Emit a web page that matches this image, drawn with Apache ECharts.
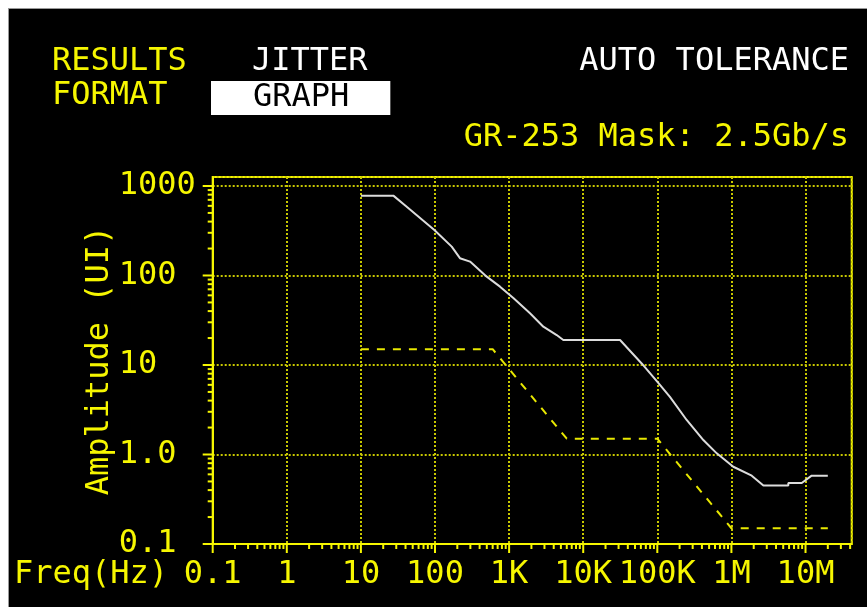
<!DOCTYPE html>
<html>
<head>
<meta charset="UTF-8">
<title>Jitter Auto Tolerance</title>
<script src="https://cdn.jsdelivr.net/npm/echarts@6/dist/echarts.min.js"></script>
<style>
  * { margin: 0; padding: 0; }
  body { background: #fff; width: 867px; height: 607px; overflow: hidden; }
  #main {
    position: absolute; left: 8px; top: 8px;
    width: 858px; height: 598px;
    background: #000;
    border-left: 1px solid #999; border-top: 1px solid #999;
  }
</style>
</head>
<body>
<div id="main"></div>
<script>
// measured jitter tolerance (white trace)
var measFreq = [10, 27.4, 40, 98, 168, 217, 297, 499, 754, 1140, 1914, 2897, 4388, 5385,
  31400, 61500, 103000, 148000, 249000, 418000, 634000, 1060000, 1880000, 2700000,
  5860000, 5860000, 8890000, 12100000, 20000000];
var measAmp = [780, 780, 600, 322, 210, 156, 143, 97, 75, 56, 37.8, 26.8, 21.6, 19,
  19, 10.4, 6.3, 4.4, 2.43, 1.45, 1.03, 0.73, 0.58, 0.45,
  0.45, 0.48, 0.48, 0.58, 0.58];

// GR-253 mask (dashed yellow)
var maskFreq = [10, 600, 6000, 100000, 1000000, 20000000];
var maskAmp = [15, 15, 1.5, 1.5, 0.15, 0.15];

// axis labels
var xTickLabels = ['0.1', '1', '10', '100', '1K', '10K', '100K', '1M', '10M'];
var yTickLabels = ['0.1', '1.0', '10', '100', '1000'];
var xDecades = [0.1, 1, 10, 100, 1e3, 1e4, 1e5, 1e6, 1e7];
var yDecades = [0.1, 1, 10, 100, 1000];
var minorSteps = [2, 3, 4, 5, 6, 7, 8, 9];

var X_MIN = 0.1, X_MAX = 4.2e7;
var Y_MIN = 0.1, Y_MAX = 1260;

var YEL = '#f6f600';
var FONT = 'DejaVu Sans Mono';

function pairs(xs, ys) {
  var out = [];
  for (var i = 0; i < xs.length; i++) out.push([xs[i], ys[i]]);
  return out;
}

function decadeIndex(v) {
  var e = Math.log10(v);
  var r = Math.round(e);
  if (Math.abs(e - r) > 1e-6) return null;
  return r + 1;
}

// tick marks at 1..9 x 10^n
var xTicks = [], yTicks = [];
xDecades.forEach(function (d) {
  xTicks.push([d, Y_MIN, 1]);
  minorSteps.forEach(function (k) {
    if (k * d < X_MAX) xTicks.push([k * d, Y_MIN, 0]);
  });
});
yDecades.forEach(function (d) {
  yTicks.push([X_MIN, d, 1]);
  minorSteps.forEach(function (k) {
    if (k * d < Y_MAX) yTicks.push([X_MIN, k * d, 0]);
  });
});

var chart = echarts.init(document.getElementById('main'));

var txt = function (size, color) {
  return { fontFamily: FONT, fontSize: size, fontWeight: 'normal', color: color, lineHeight: 32 };
};

chart.setOption({
  backgroundColor: '#000',
  animation: false,
  title: [
    { text: 'RESULTS', left: 43, top: 37, padding: 0, textStyle: txt(32, YEL) },
    { text: 'FORMAT', left: 43, top: 71, padding: 0, textStyle: txt(32, YEL) },
    { text: 'JITTER', left: 243, top: 37, padding: 0, textStyle: txt(32, '#fff') },
    { text: 'GRAPH', left: 202, top: 72, padding: [1, 41, 1, 42], backgroundColor: '#fff',
      textStyle: txt(32, '#000') },
    { text: 'AUTO TOLERANCE', right: 18, top: 37, padding: 0, textStyle: txt(32, '#fff') },
    { text: 'GR-253 Mask: 2.5Gb/s', right: 18, top: 113, padding: 0, textStyle: txt(32, YEL) },
    { text: 'Freq(Hz)', left: 5, top: 550, padding: 0, textStyle: txt(32, YEL) }
  ],
  grid: {
    left: 203.7, top: 168, right: 15.3, bottom: 63,
    containLabel: false, outerBoundsMode: 'none',
    show: true, borderColor: YEL, borderWidth: 2, backgroundColor: 'transparent'
  },
  xAxis: {
    type: 'log', logBase: 10, min: X_MIN, max: X_MAX, splitNumber: 9,
    axisLine: { show: true, lineStyle: { color: YEL, width: 2 } },
    axisTick: { show: false },
    axisLabel: {
      color: YEL, fontFamily: FONT, fontSize: 32, margin: 15, lineHeight: 32,
      showMaxLabel: false,
      formatter: function (v) {
        var i = decadeIndex(v);
        return i === null ? '' : (xTickLabels[i] || '');
      }
    },
    splitLine: { show: true, lineStyle: { color: '#c8c800', width: 2, type: [2, 2] } }
  },
  yAxis: {
    type: 'log', logBase: 10, min: Y_MIN, max: Y_MAX, splitNumber: 5,
    name: 'Amplitude (UI)', nameLocation: 'middle', nameGap: 97, nameMoveOverlap: false,
    nameTextStyle: { fontFamily: FONT, fontSize: 32, color: YEL },
    axisLine: { show: true, lineStyle: { color: YEL, width: 2 } },
    axisTick: { show: false },
    axisLabel: {
      color: YEL, fontFamily: FONT, fontSize: 32, margin: 94, align: 'left',
      showMaxLabel: false,
      formatter: function (v) {
        var i = decadeIndex(v);
        return i === null ? '' : (yTickLabels[i] || '');
      }
    },
    splitLine: { show: true, lineStyle: { color: '#c8c800', width: 2, type: [2, 2] } }
  },
  series: [
    {
      name: 'mask', type: 'line', data: pairs(maskFreq, maskAmp),
      showSymbol: false, silent: true,
      lineStyle: { color: '#e8e800', width: 2, type: [8, 8] }
    },
    {
      name: 'measured', type: 'line', data: pairs(measFreq, measAmp),
      showSymbol: false, silent: true,
      lineStyle: { color: '#dcdcdc', width: 2 }
    },
    {
      name: 'xticks', type: 'custom', data: xTicks, silent: true, clip: false,
      encode: { x: 0, y: 1 },
      renderItem: function (params, api) {
        var p = api.coord([api.value(0), api.value(1)]);
        var len = api.value(2) ? 9 : 5;
        return { type: 'line', shape: { x1: p[0], y1: p[1], x2: p[0], y2: p[1] + len },
          style: { stroke: YEL, lineWidth: 2 } };
      }
    },
    {
      name: 'yticks', type: 'custom', data: yTicks, silent: true, clip: false,
      encode: { x: 0, y: 1 },
      renderItem: function (params, api) {
        var p = api.coord([api.value(0), api.value(1)]);
        var len = api.value(2) ? 10 : 5;
        return { type: 'line', shape: { x1: p[0] - len, y1: p[1], x2: p[0], y2: p[1] },
          style: { stroke: YEL, lineWidth: 2 } };
      }
    }
  ]
});
</script>
</body>
</html>
